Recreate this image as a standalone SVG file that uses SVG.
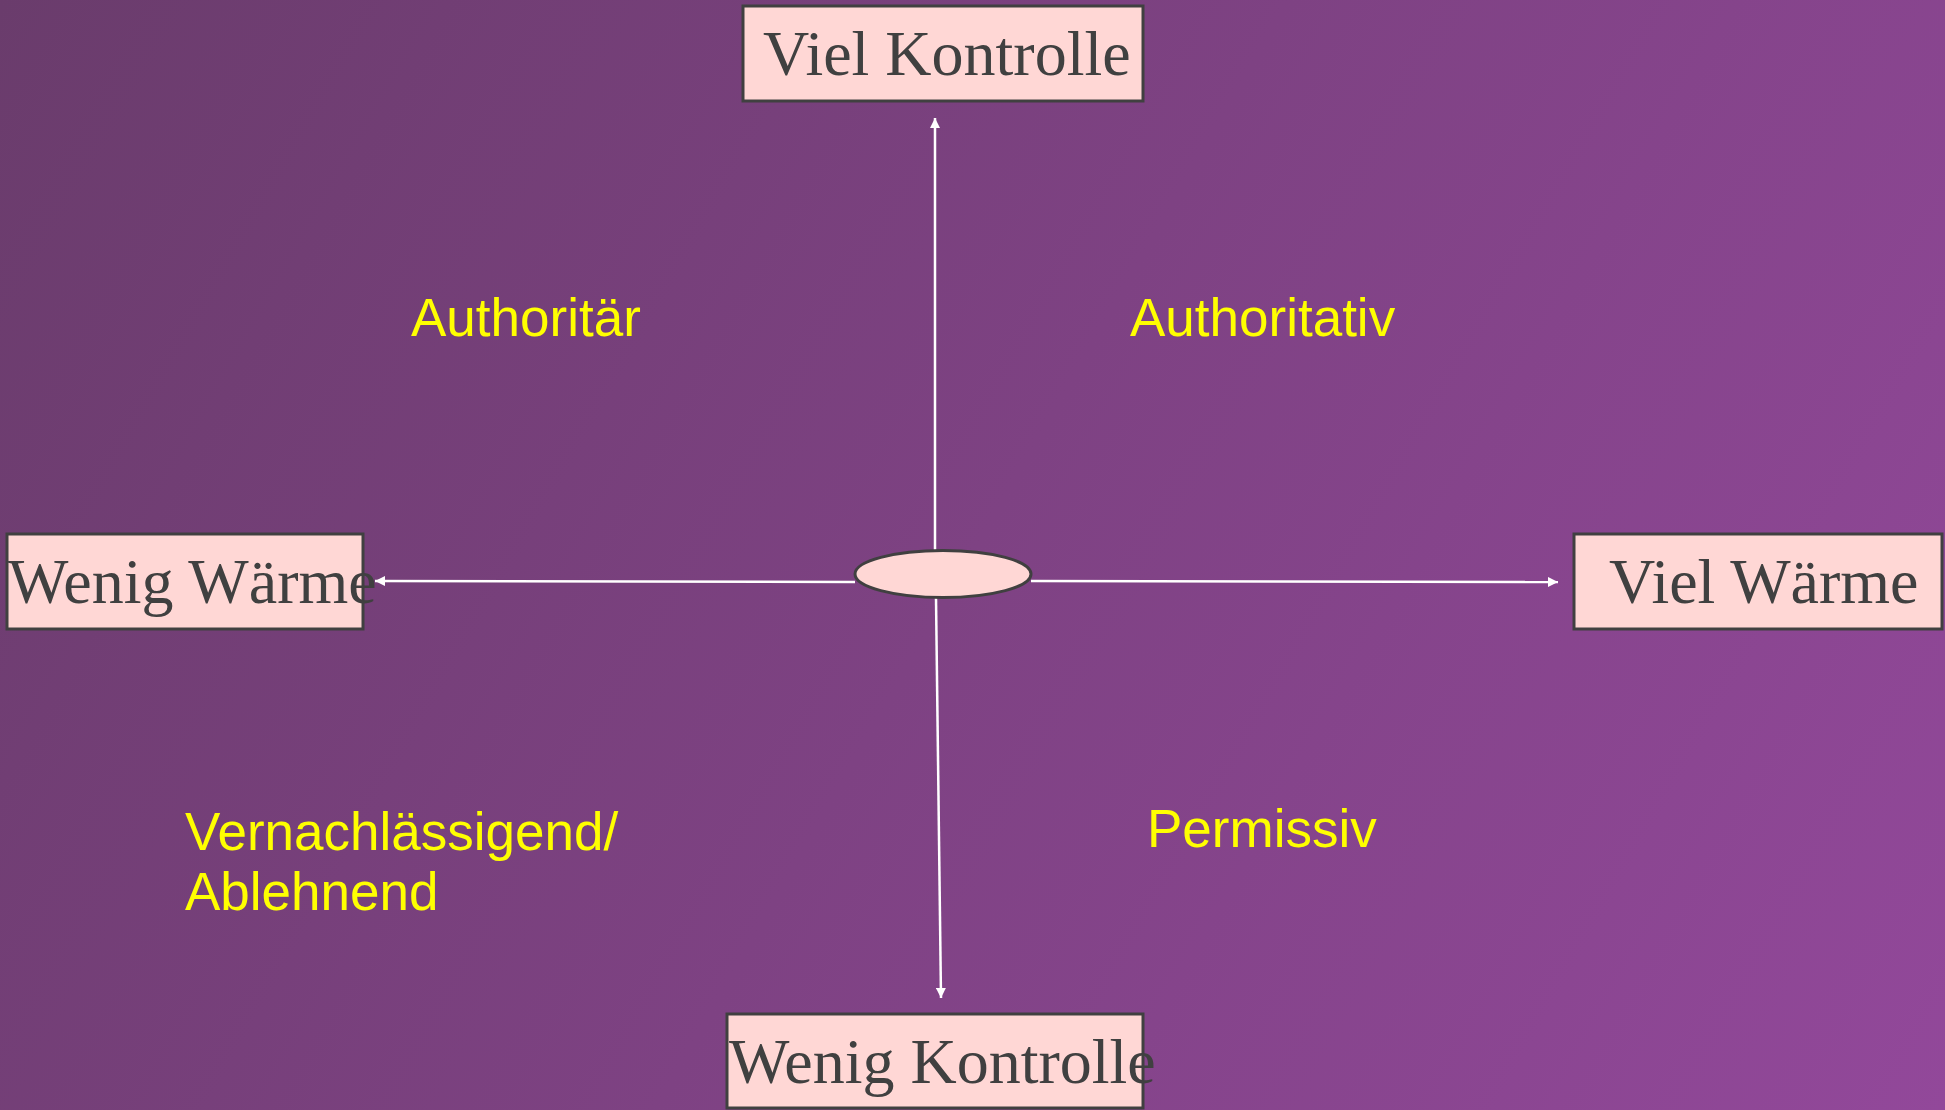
<svg xmlns="http://www.w3.org/2000/svg" width="1945" height="1110" viewBox="0 0 1945 1110">
  <defs>
    <linearGradient id="bg" x1="0" y1="0" x2="1945" y2="1110" gradientUnits="userSpaceOnUse">
      <stop offset="0" stop-color="#6a3c6c"/>
      <stop offset="1" stop-color="#92489a"/>
    </linearGradient>
    <marker id="arr" viewBox="0 0 10 10" refX="10" refY="5" markerWidth="10" markerHeight="10" markerUnits="userSpaceOnUse" orient="auto">
      <path d="M0,0 L10,5 L0,10 z" fill="#ffffff"/>
    </marker>
    <style>
      .box { fill: #ffd7d5; stroke: #404040; stroke-width: 3; }
      .boxtxt { font-family: "Liberation Serif", "Times New Roman", serif; font-size: 64px; fill: #404040; }
      .lbl { font-family: "Liberation Sans", Arial, sans-serif; font-size: 53px; fill: #ffff00; }
      .conn { stroke: #ffffff; stroke-width: 2.5; fill: none; marker-end: url(#arr); }
    </style>
  </defs>
  <rect x="0" y="0" width="1945" height="1110" fill="url(#bg)"/>

  <g id="connectors">
    <line class="conn" x1="935" y1="550" x2="935" y2="118"/>
    <line class="conn" x1="936" y1="598" x2="941" y2="998"/>
    <line class="conn" x1="855" y1="582" x2="375" y2="581"/>
    <line class="conn" x1="1031" y1="581" x2="1558" y2="582"/>
  </g>

  <g id="center">
    <ellipse class="box" cx="943" cy="574" rx="88" ry="23.5"/>
  </g>

  <g id="viel-kontrolle">
    <rect class="box" x="743" y="6" width="400" height="95"/>
    <text class="boxtxt" x="763" y="75">Viel Kontrolle</text>
  </g>

  <g id="wenig-waerme">
    <rect class="box" x="7" y="534" width="356" height="95"/>
    <text class="boxtxt" x="8" y="603">Wenig Wärme</text>
  </g>

  <g id="viel-waerme">
    <rect class="box" x="1574" y="534" width="368" height="95"/>
    <text class="boxtxt" x="1609" y="603">Viel Wärme</text>
  </g>

  <g id="wenig-kontrolle">
    <rect class="box" x="727" y="1014" width="416" height="94"/>
    <text class="boxtxt" x="729" y="1083">Wenig Kontrolle</text>
  </g>

  <g id="labels">
    <text class="lbl" x="411" y="336">Authoritär</text>
    <text class="lbl" x="1130" y="336">Authoritativ</text>
    <text class="lbl" x="185" y="850">Vernachlässigend/</text>
    <text class="lbl" x="185" y="910">Ablehnend</text>
    <text class="lbl" x="1147" y="847">Permissiv</text>
  </g>
</svg>
